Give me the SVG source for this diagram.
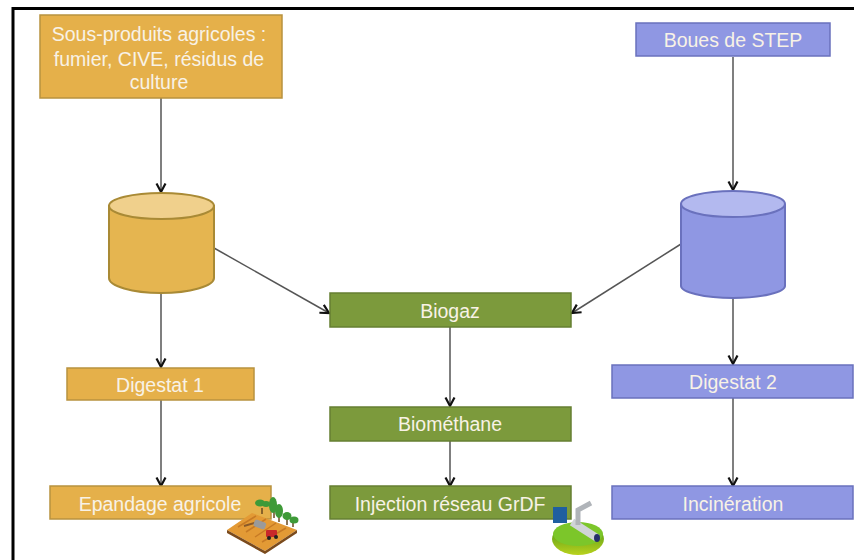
<svg xmlns="http://www.w3.org/2000/svg" width="854" height="560" viewBox="0 0 854 560">
<defs>
<marker id="arr" markerUnits="userSpaceOnUse" markerWidth="14" markerHeight="14" refX="10" refY="6" orient="auto"><path d="M1.500 1.500L10 6L1.500 10.500" fill="none" stroke="#111" stroke-width="2.200"/></marker>
<linearGradient id="disc" x1="0" y1="0" x2="0" y2="1"><stop offset="0" stop-color="#3f8f16"/><stop offset="1" stop-color="#b9d21e"/></linearGradient>
</defs>
<style>
.y{fill:#e5b04a;stroke:#b8923f;stroke-width:1.5}
.b{fill:#8f97e3;stroke:#6a71bd;stroke-width:1.5}
.g{fill:#7c9a3c;stroke:#657f32;stroke-width:1.5}
.yt{fill:#f0d08c;stroke:#a98a35;stroke-width:2}
.bt{fill:#b3b9ef;stroke:#6a71bd;stroke-width:2}
.yc{fill:#e5b550;stroke:#a98a35;stroke-width:2}
.bc{fill:#8f97e3;stroke:#6a71bd;stroke-width:2}
text{font-family:"Liberation Sans",Arial,sans-serif;font-size:19.5px;fill:#f8f2e6;text-anchor:middle}
.c path{fill:none;stroke:#555;stroke-width:1.500;marker-end:url(#arr)}
</style>
<rect width="854" height="560" fill="#fff"/>
<path d="M13 560V8.500H854" fill="none" stroke="#000" stroke-width="3"/>
<g class="c" id="connectors">
<path d="M161 98V192"/>
<path d="M733 57V190"/>
<path d="M214 248L329 313"/>
<path d="M681 244L572 313"/>
<path d="M161 291V367"/>
<path d="M733 298V364"/>
<path d="M450 327V406"/>
<path d="M161 400V486"/>
<path d="M450 441V486"/>
<path d="M733 398V486"/>
</g>
<g id="n1"><rect class="y" x="40" y="15" width="242" height="83"/><text x="159" y="41">Sous-produits agricoles :</text><text x="159" y="66">fumier, CIVE, résidus de</text><text x="159" y="89">culture</text></g>
<g id="n2"><rect class="b" x="636" y="23" width="194" height="33"/><text x="733" y="47">Boues de STEP</text></g>
<g id="n3"><path class="yc" d="M109 206V278C109 286 132 293 161 293S214 286 214 278V206Z"/><ellipse class="yt" cx="161.500" cy="206" rx="52.500" ry="13"/></g>
<g id="n4"><path class="bc" d="M681 205V286C681 292 704 298 733 298S785 292 785 286V205Z"/><ellipse class="bt" cx="733" cy="204" rx="52" ry="13"/></g>
<g id="n5"><rect class="g" x="330" y="293" width="241" height="34"/><text x="450" y="318">Biogaz</text></g>
<g id="n6"><rect class="y" x="67" y="368" width="187" height="32"/><text x="160" y="392">Digestat 1</text></g>
<g id="n7"><rect class="b" x="612" y="365" width="241" height="33"/><text x="733" y="389">Digestat 2</text></g>
<g id="n8"><rect class="g" x="330" y="407" width="241" height="34"/><text x="450" y="431">Biométhane</text></g>
<g id="n9"><rect class="y" x="50" y="486" width="221" height="33"/><text x="160" y="511">Epandage agricole</text></g>
<g id="n10"><rect class="g" x="330" y="486" width="241" height="33"/><text x="450" y="511">Injection réseau GrDF</text></g>
<g id="n11"><rect class="b" x="612" y="486" width="241" height="33"/><text x="733" y="511">Incinération</text></g>
<g id="farm">
<path d="M227 530L252 513L297 530L265 551Z" fill="#e39a35"/>
<path d="M227 530L265 551L297 530V533L265 554L227 533Z" fill="#7a4a1c"/>
<path d="M238 527L256 516M246 532L266 519M255 537L276 523M262 542L286 528" stroke="#c77a25" stroke-width="1.500"/>
<path d="M244 526L258 522" stroke="#8a5a2a" stroke-width="2"/>
<rect x="254" y="521" width="12" height="7" rx="2" fill="#9a9a9a" transform="rotate(20 260 524)"/>
<rect x="266" y="530" width="11" height="7" rx="1" fill="#c8282a"/>
<circle cx="269" cy="538" r="2" fill="#222"/><circle cx="276" cy="537" r="2" fill="#222"/>
<path d="M262 514V508M274 518V510M279 522V514M287 525V518M293 527V522" stroke="#6a4a20" stroke-width="1.500"/>
<g fill="#3e9a38"><ellipse cx="260" cy="503" rx="5" ry="3.500"/><ellipse cx="266" cy="504" rx="4" ry="3"/><ellipse cx="273" cy="505" rx="4" ry="8"/><ellipse cx="279" cy="511" rx="4" ry="7"/><ellipse cx="287" cy="516" rx="4.500" ry="4"/><ellipse cx="294" cy="520" rx="4.500" ry="3.500"/></g>
</g>
<g id="gauge">
<ellipse cx="578" cy="539" rx="26" ry="16" fill="url(#disc)"/>
<ellipse cx="578" cy="534" rx="25" ry="12" fill="#7cc62a"/>
<path d="M572 522L597 538" stroke="#d0d4d8" stroke-width="8"/>
<path d="M578 525V510L591 503" fill="none" stroke="#b0b4b9" stroke-width="5"/>
<rect x="553" y="507" width="14" height="16" fill="#1f5fa0"/>
<ellipse cx="597" cy="538" rx="3" ry="4" fill="#25306a"/>
</g>
</svg>
